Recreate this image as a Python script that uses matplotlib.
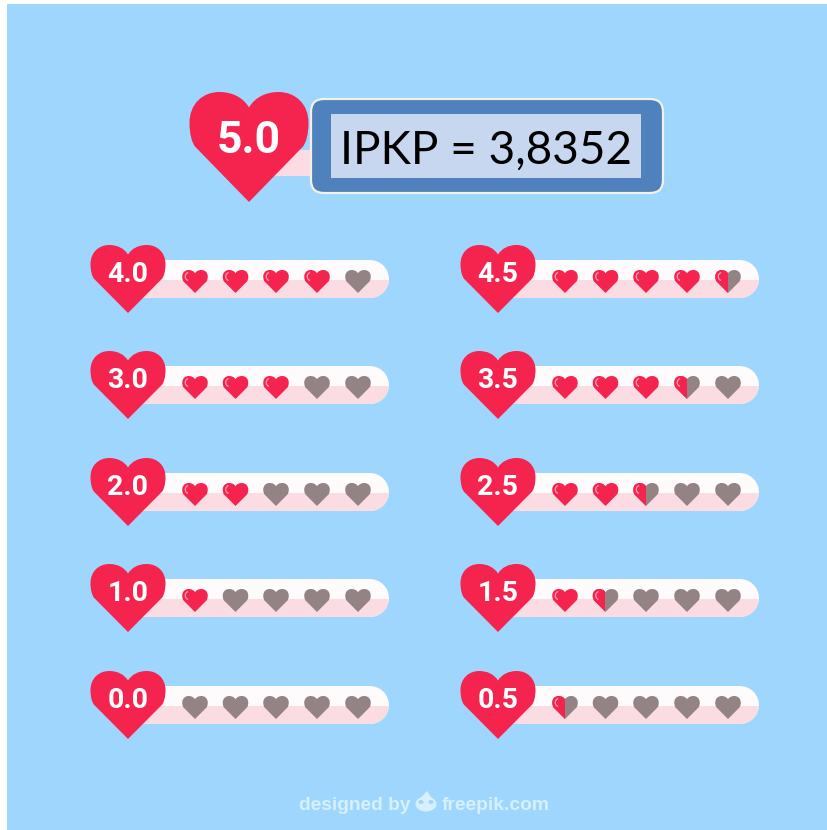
import matplotlib
matplotlib.use('Agg')
import matplotlib.pyplot as plt
from matplotlib.patches import PathPatch, FancyBboxPatch, Rectangle, Arc, Ellipse, Polygon
from matplotlib.path import Path

# notas de cada coluna
left_ratings = [4.0, 3.0, 2.0, 1.0, 0.0]
right_ratings = [4.5, 3.5, 2.5, 1.5, 0.5]
top_rating = 5.0
result_label = 'IPKP = 3,8352'
footer_left = 'designed by'
footer_right = 'freepik.com'

RED = '#F5244F'
GRAY = '#938385'
WHITE = '#FEFBFC'
PINK = '#FBDCE3'
BLUE = '#9FD6FE'

row_tops = [245, 351, 458, 564, 671]
col_heart_x = [128, 498]
col_bar_end = [389, 759]
small_offsets = [67, 107.5, 148, 189, 230]


def heart_path(cx, top, w, h):
    # coracao desenhado com curvas de bezier, ponta para baixo
    verts = [(0, 1), (-0.90, 0.50),
             (-0.96, 0.465), (-1.0, 0.38), (-1.0, 0.28),
             (-1.0, 0.11), (-0.78, 0.0), (-0.50, 0.0),
             (-0.28, 0.0), (-0.10, 0.05), (0, 0.14),
             (0.10, 0.05), (0.28, 0.0), (0.50, 0.0),
             (0.78, 0.0), (1.0, 0.11), (1.0, 0.28),
             (1.0, 0.38), (0.96, 0.465), (0.90, 0.50),
             (0, 1), (0, 1)]
    codes = [Path.MOVETO, Path.LINETO] + [Path.CURVE4] * 18 + [Path.LINETO, Path.CLOSEPOLY]
    return Path([(cx + x * w / 2, top + y * h) for x, y in verts], codes)


def draw_heart(ax, cx, top, w, h, color, z=3):
    p = PathPatch(heart_path(cx, top, w, h), facecolor=color, edgecolor='none', zorder=z)
    ax.add_patch(p)
    return p


def draw_small(ax, cx, top, fill):
    w, h = 25.5, 23
    if fill < 1:
        draw_heart(ax, cx, top, w, h, GRAY)
    if fill > 0:
        red = draw_heart(ax, cx, top, w, h, RED, z=4)
        arc = Arc((cx - 5.5, top + 6.5), 8.5, 8.5, theta1=110, theta2=250, color='#FA9DB0', lw=0.9, zorder=5)
        ax.add_patch(arc)
        if fill < 1:
            clip = Rectangle((cx - w, top - 2), w, h + 4, transform=ax.transData)
            red.set_clip_path(clip)


def draw_row(ax, rating, top, hx, bar_end):
    ymid = top + 34
    # barra em forma de pilula: linha grossa com ponta redonda (38 px = 27.36 pt)
    ax.plot([hx + 10, bar_end - 19], [ymid, ymid], color=WHITE, lw=27.36,
            solid_capstyle='round', zorder=1)
    low, = ax.plot([hx + 10, bar_end - 19], [ymid, ymid], color=PINK, lw=27.36,
                   solid_capstyle='round', zorder=2)
    low.set_clip_path(Rectangle((hx, top + 35), bar_end - hx + 5, 22, transform=ax.transData))
    draw_heart(ax, hx, top, 75, 68, RED, z=6)
    ax.text(hx, top + 29, f'{rating:.1f}', color='white', fontsize=20.5, family='Roboto',
            weight='bold', ha='center', va='center', zorder=7)
    for i, off in enumerate(small_offsets):
        draw_small(ax, hx + off, top + 25, min(max(rating - i, 0), 1))


fig = plt.figure(figsize=(8.28, 8.30), dpi=100, facecolor='white')
ax = fig.add_axes([0, 0, 1, 1])
ax.add_patch(Rectangle((7, 4), 821, 826, fc=BLUE, ec='none', zorder=0))

for col, ratings in enumerate([left_ratings, right_ratings]):
    for rating, top in zip(ratings, row_tops):
        draw_row(ax, rating, top, col_heart_x[col], col_bar_end[col])

# coracao maior e a caixa do resultado
ax.add_patch(Rectangle((270, 150), 60, 26, fc=PINK, ec='none', zorder=1))
draw_heart(ax, 249, 92, 119, 110, RED, z=6)
ax.text(249, 141, f'{top_rating:.1f}', color='white', fontsize=32, family='Roboto',
        weight='bold', ha='center', va='center', zorder=7)

box = FancyBboxPatch((311, 99), 352, 94, boxstyle='round,pad=0,rounding_size=13',
                     fc='#4F81BD', ec='#F3F1E6', lw=1.6, zorder=8)
ax.add_patch(box)
ax.add_patch(Rectangle((331, 114), 310, 64, fc='#C6D7EF', ec='none', zorder=9))
ax.text(486.5, 151, result_label, color='black', fontsize=33, family='Lato',
        ha='center', va='center', zorder=10)

# rodape
foot = '#D8EFFD'
ax.text(299, 805, footer_left, color=foot, fontsize=13.8, family='Liberation Sans',
        weight='bold', ha='left', va='center', zorder=3)
ax.text(442, 805, footer_right, color=foot, fontsize=13.9, family='Liberation Sans',
        weight='bold', ha='left', va='center', zorder=3)
ax.add_patch(Ellipse((426, 804), 21, 15, fc=foot, ec='none', zorder=3))
ax.add_patch(Polygon([(419, 800), (427, 791), (433, 800)], fc=foot, ec='none', zorder=3))
ax.add_patch(Ellipse((421, 802), 5, 4, fc=BLUE, ec='none', zorder=4))
ax.add_patch(Ellipse((431, 802), 5, 4, fc=BLUE, ec='none', zorder=4))

ax.set_xlim(0, 828)
ax.set_ylim(830, 0)
ax.axis('off')

plt.savefig('out.png', dpi=100)
